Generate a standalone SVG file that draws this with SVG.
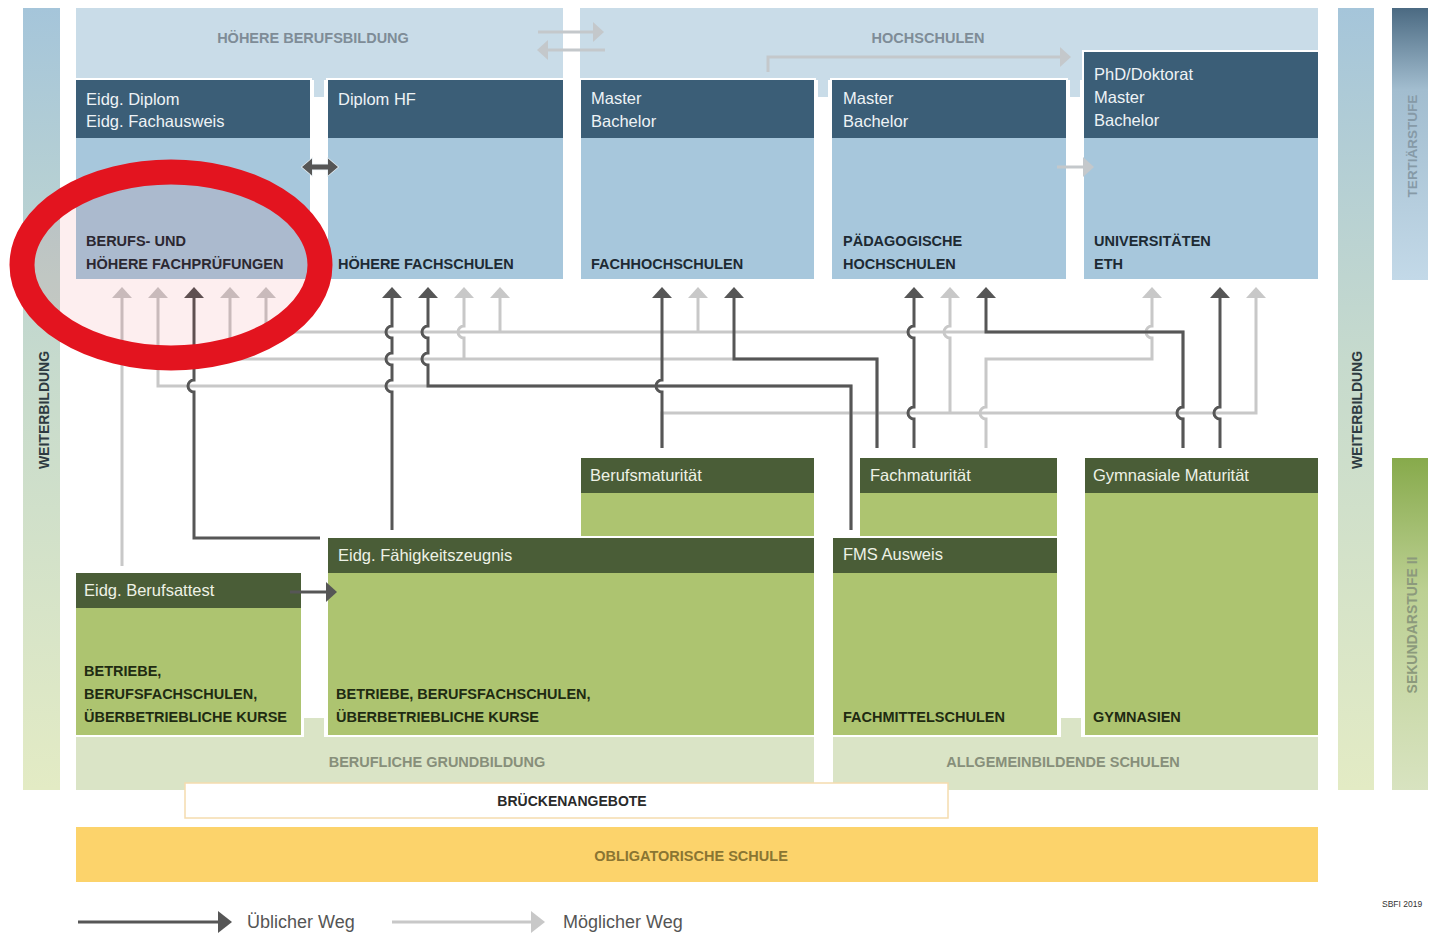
<svg xmlns="http://www.w3.org/2000/svg" width="1435" height="945" viewBox="0 0 1435 945">
<defs>
<style>
text{font-family:"Liberation Sans",Arial,sans-serif}
.bandB{fill:#c9dce8}
.hdrB{fill:#3b5e77}
.bodyB{fill:#a7c7dc}
.bandG{fill:#dae4c6}
.hdrG{fill:#4a5d37}
.bodyG{fill:#adc470}
.gap{fill:#ffffff}
.th{font-size:16.5px;fill:#eef3f6}
.tg{font-size:16.5px;fill:#eef2e6}
.tl{font-size:14.5px;font-weight:bold;fill:#1d2a33}
.tlg{font-size:14.5px;font-weight:bold;fill:#1f2b12}
.tbb{font-size:14.5px;font-weight:bold;fill:#7e8c97}
.tbg{font-size:14.5px;font-weight:bold;fill:#878f7a}
.tv{font-size:14px;font-weight:bold;fill:#2d3a40}
.cd{stroke:#565656;stroke-width:3;fill:none}
.cl{stroke:#c8c8c8;stroke-width:3;fill:none}
.cw{stroke:#c4c8cb;stroke-width:3;fill:none}
</style>
<linearGradient id="gWB" x1="0" y1="0" x2="0" y2="1">
<stop offset="0" stop-color="#a5c5da"/>
<stop offset="0.45" stop-color="#c6dacd"/>
<stop offset="1" stop-color="#e3ebc4"/>
</linearGradient>
<linearGradient id="gT" x1="0" y1="0" x2="0" y2="1">
<stop offset="0" stop-color="#4b6a82"/>
<stop offset="0.3" stop-color="#a2bdcf"/>
<stop offset="1" stop-color="#c3d9e8"/>
</linearGradient>
<linearGradient id="gS" x1="0" y1="0" x2="0" y2="1">
<stop offset="0" stop-color="#87aa4b"/>
<stop offset="0.4" stop-color="#bcd093"/>
<stop offset="1" stop-color="#d8e3c0"/>
</linearGradient>
<marker id="ahD" markerUnits="userSpaceOnUse" markerWidth="12" markerHeight="20" viewBox="0 0 12 20" refX="0" refY="10" orient="auto"><path d="M0,0 L11,10 L0,20 Z" fill="#565656"/></marker>
<marker id="ahL" markerUnits="userSpaceOnUse" markerWidth="12" markerHeight="20" viewBox="0 0 12 20" refX="0" refY="10" orient="auto"><path d="M0,0 L11,10 L0,20 Z" fill="#c8c8c8"/></marker>
<marker id="ahW" markerUnits="userSpaceOnUse" markerWidth="12" markerHeight="20" viewBox="0 0 12 20" refX="0" refY="10" orient="auto"><path d="M0,0 L11,10 L0,20 Z" fill="#c4c8cb"/></marker>
</defs>
<rect width="1435" height="945" fill="#ffffff"/>

<!-- side bars -->
<g id="weiterbildung-links">
<rect x="23" y="8" width="37" height="782" fill="url(#gWB)"/>
<text class="tv" transform="translate(49,410) rotate(-90)" text-anchor="middle">WEITERBILDUNG</text>
</g>
<g id="weiterbildung-rechts">
<rect x="1338" y="8" width="36" height="782" fill="url(#gWB)"/>
<text class="tv" transform="translate(1362,410) rotate(-90)" text-anchor="middle">WEITERBILDUNG</text>
</g>
<g id="tertiaerstufe">
<rect x="1392" y="8" width="36" height="272" fill="url(#gT)"/>
<text transform="translate(1417,146) rotate(-90)" text-anchor="middle" style="font-size:13.5px;font-weight:bold;fill:#869aa7">TERTIÄRSTUFE</text>
</g>
<g id="sekundarstufe">
<rect x="1392" y="458" width="36" height="332" fill="url(#gS)"/>
<text transform="translate(1417,625) rotate(-90)" text-anchor="middle" style="font-size:14px;font-weight:bold;fill:#8c9a7c">SEKUNDARSTUFE II</text>
</g>

<!-- bands -->
<g id="hoehere-berufsbildung">
<rect class="bandB" x="76" y="8" width="487" height="72"/>
<rect class="bandB" x="314" y="78" width="10" height="19"/>
<text class="tbb" x="313" y="43" text-anchor="middle">HÖHERE BERUFSBILDUNG</text>
</g>
<g id="hochschulen">
<rect class="bandB" x="580" y="8" width="738" height="72"/>
<rect class="bandB" x="818" y="78" width="10" height="19"/>
<rect class="bandB" x="1070" y="78" width="10" height="19"/>
<text class="tbb" x="928" y="43" text-anchor="middle">HOCHSCHULEN</text>
</g>
<g id="berufliche-grundbildung">
<rect class="bandG" x="76" y="737" width="738" height="53"/>
<rect class="bandG" x="304" y="718" width="20" height="21"/>
<text class="tbg" x="437" y="767" text-anchor="middle">BERUFLICHE GRUNDBILDUNG</text>
</g>
<g id="allgemeinbildende-schulen">
<rect class="bandG" x="833" y="737" width="485" height="53"/>
<rect class="bandG" x="1061" y="718" width="20" height="21"/>
<text class="tbg" x="1063" y="767" text-anchor="middle">ALLGEMEINBILDENDE SCHULEN</text>
</g>

<!-- tertiary nodes -->
<g id="berufspruefungen">
<rect class="gap" x="74" y="78" width="238" height="203"/>
<rect class="hdrB" x="76" y="80" width="234" height="58"/>
<rect class="bodyB" x="76" y="138" width="234" height="141"/>
<text class="th" x="86" y="105">Eidg. Diplom</text>
<text class="th" x="86" y="127">Eidg. Fachausweis</text>
<text class="tl" x="86" y="246">BERUFS- UND</text>
<text class="tl" x="86" y="269">HÖHERE FACHPRÜFUNGEN</text>
</g>
<g id="hoehere-fachschulen">
<rect class="gap" x="326" y="78" width="239" height="203"/>
<rect class="hdrB" x="328" y="80" width="235" height="58"/>
<rect class="bodyB" x="328" y="138" width="235" height="141"/>
<text class="th" x="338" y="105">Diplom HF</text>
<text class="tl" x="338" y="269">HÖHERE FACHSCHULEN</text>
</g>
<g id="fachhochschulen">
<rect class="gap" x="579" y="78" width="237" height="203"/>
<rect class="hdrB" x="581" y="80" width="233" height="58"/>
<rect class="bodyB" x="581" y="138" width="233" height="141"/>
<text class="th" x="591" y="104">Master</text>
<text class="th" x="591" y="127">Bachelor</text>
<text class="tl" x="591" y="269">FACHHOCHSCHULEN</text>
</g>
<g id="paedagogische-hochschulen">
<rect class="gap" x="830" y="78" width="238" height="203"/>
<rect class="hdrB" x="832" y="80" width="234" height="58"/>
<rect class="bodyB" x="832" y="138" width="234" height="141"/>
<text class="th" x="843" y="104">Master</text>
<text class="th" x="843" y="127">Bachelor</text>
<text class="tl" x="843" y="246">PÄDAGOGISCHE</text>
<text class="tl" x="843" y="269">HOCHSCHULEN</text>
</g>
<g id="universitaeten">
<rect class="gap" x="1082" y="50" width="238" height="231"/>
<rect class="hdrB" x="1084" y="52" width="234" height="86"/>
<rect class="bodyB" x="1084" y="138" width="234" height="141"/>
<text class="th" x="1094" y="80">PhD/Doktorat</text>
<text class="th" x="1094" y="103">Master</text>
<text class="th" x="1094" y="126">Bachelor</text>
<text class="tl" x="1094" y="246">UNIVERSITÄTEN</text>
<text class="tl" x="1094" y="269">ETH</text>
</g>

<!-- secondary nodes -->
<g id="berufsmaturitaet">
<rect class="gap" x="579" y="456" width="237" height="82"/>
<rect class="hdrG" x="581" y="458" width="233" height="35"/>
<rect class="bodyG" x="581" y="493" width="233" height="43"/>
<text class="tg" x="590" y="481">Berufsmaturität</text>
</g>
<g id="fachmaturitaet">
<rect class="gap" x="858" y="456" width="201" height="82"/>
<rect class="hdrG" x="860" y="458" width="197" height="35"/>
<rect class="bodyG" x="860" y="493" width="197" height="43"/>
<text class="tg" x="870" y="481">Fachmaturität</text>
</g>
<g id="gymnasien">
<rect class="gap" x="1083" y="456" width="237" height="281"/>
<rect class="hdrG" x="1085" y="458" width="233" height="35"/>
<rect class="bodyG" x="1085" y="493" width="233" height="242"/>
<text class="tg" x="1093" y="481">Gymnasiale Maturität</text>
<text class="tlg" x="1093" y="722">GYMNASIEN</text>
</g>
<g id="efz">
<rect class="gap" x="326" y="536" width="490" height="201"/>
<rect class="hdrG" x="328" y="538" width="486" height="35"/>
<rect class="bodyG" x="328" y="573" width="486" height="162"/>
<text class="tg" x="338" y="561">Eidg. Fähigkeitszeugnis</text>
<text class="tlg" x="336" y="699">BETRIEBE, BERUFSFACHSCHULEN,</text>
<text class="tlg" x="336" y="722">ÜBERBETRIEBLICHE KURSE</text>
</g>
<g id="fachmittelschulen">
<rect class="gap" x="831" y="536" width="228" height="201"/>
<rect class="hdrG" x="833" y="538" width="224" height="35"/>
<rect class="bodyG" x="833" y="573" width="224" height="162"/>
<text class="tg" x="843" y="560">FMS Ausweis</text>
<text class="tlg" x="843" y="722">FACHMITTELSCHULEN</text>
</g>
<g id="berufsattest">
<rect class="gap" x="74" y="571" width="229" height="166"/>
<rect class="hdrG" x="76" y="573" width="225" height="35"/>
<rect class="bodyG" x="76" y="608" width="225" height="127"/>
<text class="tg" x="84" y="596">Eidg. Berufsattest</text>
<text class="tlg" x="84" y="676">BETRIEBE,</text>
<text class="tlg" x="84" y="699">BERUFSFACHSCHULEN,</text>
<text class="tlg" x="84" y="722">ÜBERBETRIEBLICHE KURSE</text>
</g>

<g id="brueckenangebote">
<rect x="185" y="783" width="763" height="35" fill="#ffffff" stroke="#f5dcae" stroke-width="1.5"/>
<text x="572" y="806" text-anchor="middle" style="font-size:14px;font-weight:bold;fill:#2a2a2a">BRÜCKENANGEBOTE</text>
</g>
<g id="obligatorische-schule">
<rect x="76" y="827" width="1242" height="55" fill="#fcd36b"/>
<text x="691" y="861" text-anchor="middle" style="font-size:14.5px;font-weight:bold;fill:#8a7532">OBLIGATORISCHE SCHULE</text>
</g>

<!-- connectors -->
<g id="connectors">
<g id="moegliche-wege">
<path class="cl" marker-end="url(#ahL)" d="M122,566 V298"/>
<path class="cl" marker-end="url(#ahL)" d="M851,530 V386 H158 V298"/>
<path class="cl" marker-end="url(#ahL)" d="M877,448 V359 H230 V298"/>
<path class="cl" marker-end="url(#ahL)" d="M1183,448 V419 A6,6 0 0 1 1183,407 V332 H266 V298"/>
<path class="cl" marker-end="url(#ahL)" d="M464,359 V338 A6,6 0 0 1 464,326 V298"/>
<path class="cl" marker-end="url(#ahL)" d="M500,332 V298"/>
<path class="cl" marker-end="url(#ahL)" d="M698,332 V298"/>
<path class="cl" marker-end="url(#ahL)" d="M950,413 V338 A6,6 0 0 1 950,326 V298"/>
<path class="cl" marker-end="url(#ahL)" d="M986,448 V419 A6,6 0 0 1 986,407 V359 H1152 V338 A6,6 0 0 1 1152,326 V298"/>
<path class="cl" marker-end="url(#ahL)" d="M662,448 V413 H1256 V298"/>
<path class="cw" marker-end="url(#ahW)" d="M538,32 H593"/>
<path class="cw" marker-end="url(#ahW)" d="M605,50 H548"/>
<path class="cw" marker-end="url(#ahW)" d="M768,72 V57 H1060"/>
<path class="cw" marker-end="url(#ahW)" d="M1057,167 H1083"/>
</g>
<g id="uebliche-wege">
<path class="cd" marker-end="url(#ahD)" d="M320,538 H194 V392 A6,6 0 0 1 194,380 V298"/>
<path class="cd" marker-end="url(#ahD)" d="M392,530 V392 A6,6 0 0 1 392,380 V365 A6,6 0 0 1 392,353 V338 A6,6 0 0 1 392,326 V298"/>
<path class="cd" marker-end="url(#ahD)" d="M851,530 V386 H428 V365 A6,6 0 0 1 428,353 V338 A6,6 0 0 1 428,326 V298"/>
<path class="cd" marker-end="url(#ahD)" d="M662,448 V392 A6,6 0 0 1 662,380 V298"/>
<path class="cd" marker-end="url(#ahD)" d="M877,448 V359 H734 V298"/>
<path class="cd" marker-end="url(#ahD)" d="M914,448 V419 A6,6 0 0 1 914,407 V338 A6,6 0 0 1 914,326 V298"/>
<path class="cd" marker-end="url(#ahD)" d="M1183,448 V419 A6,6 0 0 1 1183,407 V332 H986 V298"/>
<path class="cd" marker-end="url(#ahD)" d="M1220,448 V419 A6,6 0 0 1 1220,407 V298"/>
<path class="cd" marker-end="url(#ahD)" d="M290,592 H326"/>
<path d="M302,167 L312,158.5 L312,164.5 L328,164.5 L328,158.5 L338,167 L328,175.5 L328,169.5 L312,169.5 L312,175.5 Z" fill="#565656" stroke="#e6eef3" stroke-width="1.5" paint-order="stroke"/>
</g>
</g>

<!-- highlight -->
<g id="markierung">
<ellipse cx="171" cy="265" rx="149" ry="93" fill="#e3141f" fill-opacity="0.07" stroke="#e3141f" stroke-width="25"/>
</g>

<!-- legend -->
<g id="legende">
<line x1="78" y1="922" x2="219" y2="922" stroke="#565656" stroke-width="3"/>
<path d="M218,911 L232,922 L218,933 Z" fill="#565656"/>
<text x="247" y="928" style="font-size:18px;fill:#555555">Üblicher Weg</text>
<line x1="392" y1="922" x2="532" y2="922" stroke="#c8c8c8" stroke-width="3"/>
<path d="M531,911 L545,922 L531,933 Z" fill="#c8c8c8"/>
<text x="563" y="928" style="font-size:18px;fill:#555555">Möglicher Weg</text>
<text x="1382" y="907" style="font-size:8.5px;fill:#333333">SBFI 2019</text>
</g>
</svg>
